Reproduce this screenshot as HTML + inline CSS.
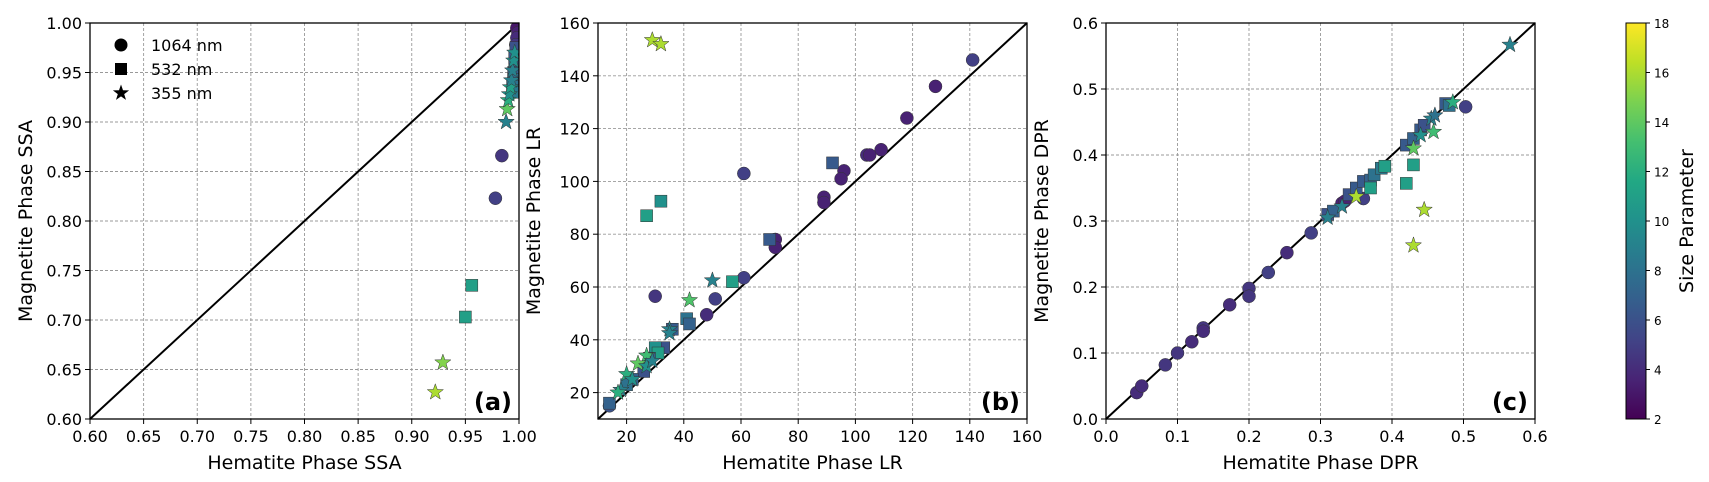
<!DOCTYPE html>
<html><head><meta charset="utf-8">
<style>
html,body{margin:0;padding:0;background:#fff;}
svg{display:block;font-family:"DejaVu Sans","Liberation Sans",sans-serif;}
</style></head>
<body>
<svg id="fig" width="1709" height="482" viewBox="0 0 1709 482" xmlns="http://www.w3.org/2000/svg"></svg>
<script>
// Panel (a) SSA data: [hematite, magnetite, sizeParameter]
const ssaCircles = [[0.984,0.866,4.5],[0.978,0.823,5],[0.998,0.995,3],[0.999,0.990,3.5],[0.998,0.985,4],[0.997,0.978,4.5],[0.997,0.970,5]];
const ssaSquares = [[0.956,0.735,11],[0.950,0.703,11],[0.997,0.975,6],[0.996,0.965,6.5],[0.996,0.957,7],[0.995,0.950,7],[0.995,0.943,7.5],[0.994,0.936,8],[0.994,0.930,8.5]];
const ssaStars = [[0.929,0.657,15],[0.922,0.627,16],[0.988,0.900,9],[0.989,0.913,14],[0.990,0.922,12],[0.991,0.928,10],[0.992,0.935,11],[0.993,0.942,9],[0.994,0.952,9],[0.995,0.962,10],[0.996,0.970,10]];
// Panel (b) LR data
const lrCircles = [[141,146,5],[128,136,3.5],[118,124,3.5],[109,112,3.5],[104,110,4],[105,110,3.5],[96,104,3.5],[95,101,3.5],[89,94,3.5],[89,92,3.5],[72,78,3.5],[72,75,3.5],[61,103,5],[61,63.5,5],[51,55.5,5],[48,49.5,4],[30,56.5,4.5],[14,15,6]];
const lrSquares = [[92,107,6.5],[70,78,6.5],[27,87,11],[32,92.5,10],[57,62,11],[41,48,8],[42,46,7],[36,44,6.5],[33,37,6],[30,37,10],[31,35,11],[28,33,7],[26,28,6],[22,25,7],[20,23,8],[14,16,7]];
const lrStars = [[29,153.5,16],[32,152,16],[50,62.5,9],[42,55,13.5],[35,44,9],[35,42.5,9],[27,34,13],[24,31,14],[20,27,12],[18,21,9],[17,20,12],[22,25,10],[27,30,10],[29,32,9]];
// Panel (c) DPR data
const dprCircles = [[0.043,0.040,4],[0.050,0.050,4],[0.083,0.082,4.5],[0.100,0.100,4.5],[0.120,0.117,4],[0.136,0.138,4.5],[0.136,0.133,4],[0.173,0.173,4],[0.200,0.198,4.5],[0.200,0.186,4.5],[0.227,0.222,5],[0.253,0.252,4],[0.287,0.282,5],[0.330,0.327,3.5],[0.334,0.330,3.5],[0.360,0.334,5],[0.503,0.473,5]];
const dprSquares = [[0.310,0.310,6],[0.318,0.315,7],[0.340,0.340,6],[0.350,0.350,6.5],[0.360,0.360,6.5],[0.370,0.362,7],[0.375,0.370,8],[0.385,0.380,8.5],[0.390,0.383,11],[0.370,0.350,11],[0.420,0.357,11],[0.430,0.385,11],[0.420,0.415,6.5],[0.430,0.425,7],[0.440,0.438,6.5],[0.445,0.445,6],[0.475,0.478,6.5],[0.480,0.475,8]];
const dprStars = [[0.565,0.567,9],[0.310,0.305,9],[0.330,0.322,9],[0.350,0.337,16],[0.430,0.263,16],[0.445,0.317,16],[0.430,0.410,14],[0.458,0.435,13],[0.455,0.455,9],[0.460,0.460,8],[0.485,0.480,12],[0.440,0.430,10]];

const ssaTicks = [0.60,0.65,0.70,0.75,0.80,0.85,0.90,0.95,1.00];
const lrXTicks = [20,40,60,80,100,120,140,160];
const lrYTicks = [20,40,60,80,100,120,140,160];
const dprTicks = [0.0,0.1,0.2,0.3,0.4,0.5,0.6];
const cbTicks = [2,4,6,8,10,12,14,16,18];

const NS="http://www.w3.org/2000/svg";
const svg=document.getElementById('fig');
function mk(tag,attrs,parent){const e=document.createElementNS(NS,tag);for(const k in attrs)e.setAttribute(k,attrs[k]);(parent||svg).appendChild(e);return e;}
const vir=[[68,1,84],[72,36,117],[65,68,135],[53,95,141],[42,120,142],[33,145,140],[34,168,132],[68,191,112],[122,209,81],[189,223,38],[253,231,37]];
function viridis(t){t=Math.max(0,Math.min(1,t));const s=t*10,i=Math.min(9,Math.floor(s)),f=s-i;const a=vir[i],b=vir[i+1];return 'rgb('+a.map((v,k)=>Math.round(v+(b[k]-v)*f)).join(',')+')';}
function cmap(v){return viridis((v-2)/16);}
function starPts(cx,cy,R){const r=R*0.4;let p=[];for(let i=0;i<10;i++){const a=-Math.PI/2+i*Math.PI/5;const rr=i%2?r:R;p.push((cx+rr*Math.cos(a)).toFixed(1)+','+(cy+rr*Math.sin(a)).toFixed(1));}return p.join(' ');}

function panel(cfg){
  const {x0,x1,y0,y1,xmin,xmax,ymin,ymax,xt,yt,fmtX,fmtY,xlabel,ylabel,tag,id}=cfg;
  const sx=v=>x0+(v-xmin)/(xmax-xmin)*(x1-x0);
  const sy=v=>y1-(v-ymin)/(ymax-ymin)*(y1-y0);
  const g=mk('g',{});
  
  
  xt.forEach(v=>{const X=sx(v);
    if(X>x0+1&&X<x1-1){const l=mk('line',{x1:X,x2:X,y1:y0,y2:y1,stroke:'#999','stroke-dasharray':'3,2','stroke-width':0.9},g);}
    mk('line',{x1:X,x2:X,y1:y1,y2:y1+5,stroke:'#000'},g);
    const t=mk('text',{x:X,y:y1+23,'font-size':16,'text-anchor':'middle'},g);t.textContent=fmtX(v);
    });
  yt.forEach(v=>{const Y=sy(v);
    if(Y>y0+1&&Y<y1-1){const l=mk('line',{x1:x0,x2:x1,y1:Y,y2:Y,stroke:'#999','stroke-dasharray':'3,2','stroke-width':0.9},g);}
    mk('line',{x1:x0-5,x2:x0,y1:Y,y2:Y,stroke:'#000'},g);
    const t=mk('text',{x:x0-8,y:Y+6,'font-size':16,'text-anchor':'end'},g);t.textContent=fmtY(v);
    });
  const lo=Math.max(xmin,ymin),hi=Math.min(xmax,ymax);
  const d=mk('line',{x1:sx(lo),y1:sy(lo),x2:sx(hi),y2:sy(hi),stroke:'#000','stroke-width':2},g);
  
  const clip=mk('clipPath',{id:'clip-'+id},g);mk('rect',{x:x0,y:y0,width:x1-x0,height:y1-y0},clip);
  const pg=mk('g',{'clip-path':'url(#clip-'+id+')'},g);
  cfg.circles.forEach(p=>{const c=mk('circle',{cx:sx(p[0]),cy:sy(p[1]),r:6.5,fill:cmap(p[2]),stroke:'#333','stroke-width':0.5},pg);});
  cfg.squares.forEach(p=>{const c=mk('rect',{x:sx(p[0])-6,y:sy(p[1])-6,width:12,height:12,fill:cmap(p[2]),stroke:'#333','stroke-width':0.5},pg);});
  cfg.stars.forEach(p=>{const c=mk('polygon',{points:starPts(sx(p[0]),sy(p[1]),8.5),fill:cmap(p[2]),stroke:'#333','stroke-width':0.5},pg);});
  const fr=mk('rect',{x:x0,y:y0,width:x1-x0,height:y1-y0,fill:'none',stroke:'#000','stroke-width':1.3},g);
  
  const xl=mk('text',{x:(x0+x1)/2,y:y1+50,'font-size':19,'text-anchor':'middle'},g);xl.textContent=xlabel;
  
  const yx=x0-58,yy=(y0+y1)/2;
  const yl=mk('text',{x:yx,y:yy,'font-size':19,'text-anchor':'middle',transform:'rotate(-90 '+yx+' '+yy+')'},g);yl.textContent=ylabel;
  
  const tg=mk('text',{x:x1-7,y:y1-9,'font-size':24,'font-weight':'bold','text-anchor':'end'},g);tg.textContent=tag;
  
}
const f2=v=>v.toFixed(2),f1=v=>v.toFixed(1),f0=v=>String(v);
panel({id:'a',x0:90,x1:519,y0:23,y1:419,xmin:0.6,xmax:1,ymin:0.6,ymax:1,xt:ssaTicks,yt:ssaTicks,fmtX:f2,fmtY:f2,xlabel:'Hematite Phase SSA',ylabel:'Magnetite Phase SSA',tag:'(a)',circles:ssaCircles,squares:ssaSquares,stars:ssaStars});
panel({id:'b',x0:598,x1:1027,y0:23,y1:419,xmin:10,xmax:160,ymin:10,ymax:160,xt:lrXTicks,yt:lrYTicks,fmtX:f0,fmtY:f0,xlabel:'Hematite Phase LR',ylabel:'Magnetite Phase LR',tag:'(b)',circles:lrCircles,squares:lrSquares,stars:lrStars});
panel({id:'c',x0:1106,x1:1535,y0:23,y1:419,xmin:0,xmax:0.6,ymin:0,ymax:0.6,xt:dprTicks,yt:dprTicks,fmtX:f1,fmtY:f1,xlabel:'Hematite Phase DPR',ylabel:'Magnetite Phase DPR',tag:'(c)',circles:dprCircles,squares:dprSquares,stars:dprStars});

// legend in panel a
const leg=mk('g',{});


[['circle','1064 nm'],['square','532 nm'],['star','355 nm']].forEach((e,i)=>{
  const y=45+i*24,x=121;
  let m;
  if(e[0]==='circle')m=mk('circle',{cx:x,cy:y,r:6.5,fill:'#000'},leg);
  else if(e[0]==='square')m=mk('rect',{x:x-6,y:y-6,width:12,height:12,fill:'#000'},leg);
  else m=mk('polygon',{points:starPts(x,y,8.5),fill:'#000'},leg);
  const t=mk('text',{x:151,y:y+6,'font-size':16},leg);t.textContent=e[1];
  
});

// colorbar
const cb=mk('g',{});


const defs=mk('defs',{},cb);
const lg=mk('linearGradient',{id:'vg',x1:0,y1:1,x2:0,y2:0},defs);
for(let i=0;i<=10;i++)mk('stop',{offset:(i/10),'stop-color':viridis(i/10)},lg);
const cy0=23,cy1=419,cx0=1626,cx1=1646;
mk('rect',{x:cx0,y:cy0,width:cx1-cx0,height:cy1-cy0,fill:'url(#vg)',stroke:'#000','stroke-width':1},cb);
cbTicks.forEach(v=>{const Y=cy1-(v-2)/16*(cy1-cy0);
  mk('line',{x1:cx1,x2:cx1+4,y1:Y,y2:Y,stroke:'#000'},cb);
  const t=mk('text',{x:cx1+8,y:Y+5,'font-size':12},cb);t.textContent=v;
  });
const ct=mk('text',{x:1693,y:221,'font-size':19,'text-anchor':'middle',transform:'rotate(-90 1693 221)'},cb);ct.textContent='Size Parameter';

</script>
</body></html>
